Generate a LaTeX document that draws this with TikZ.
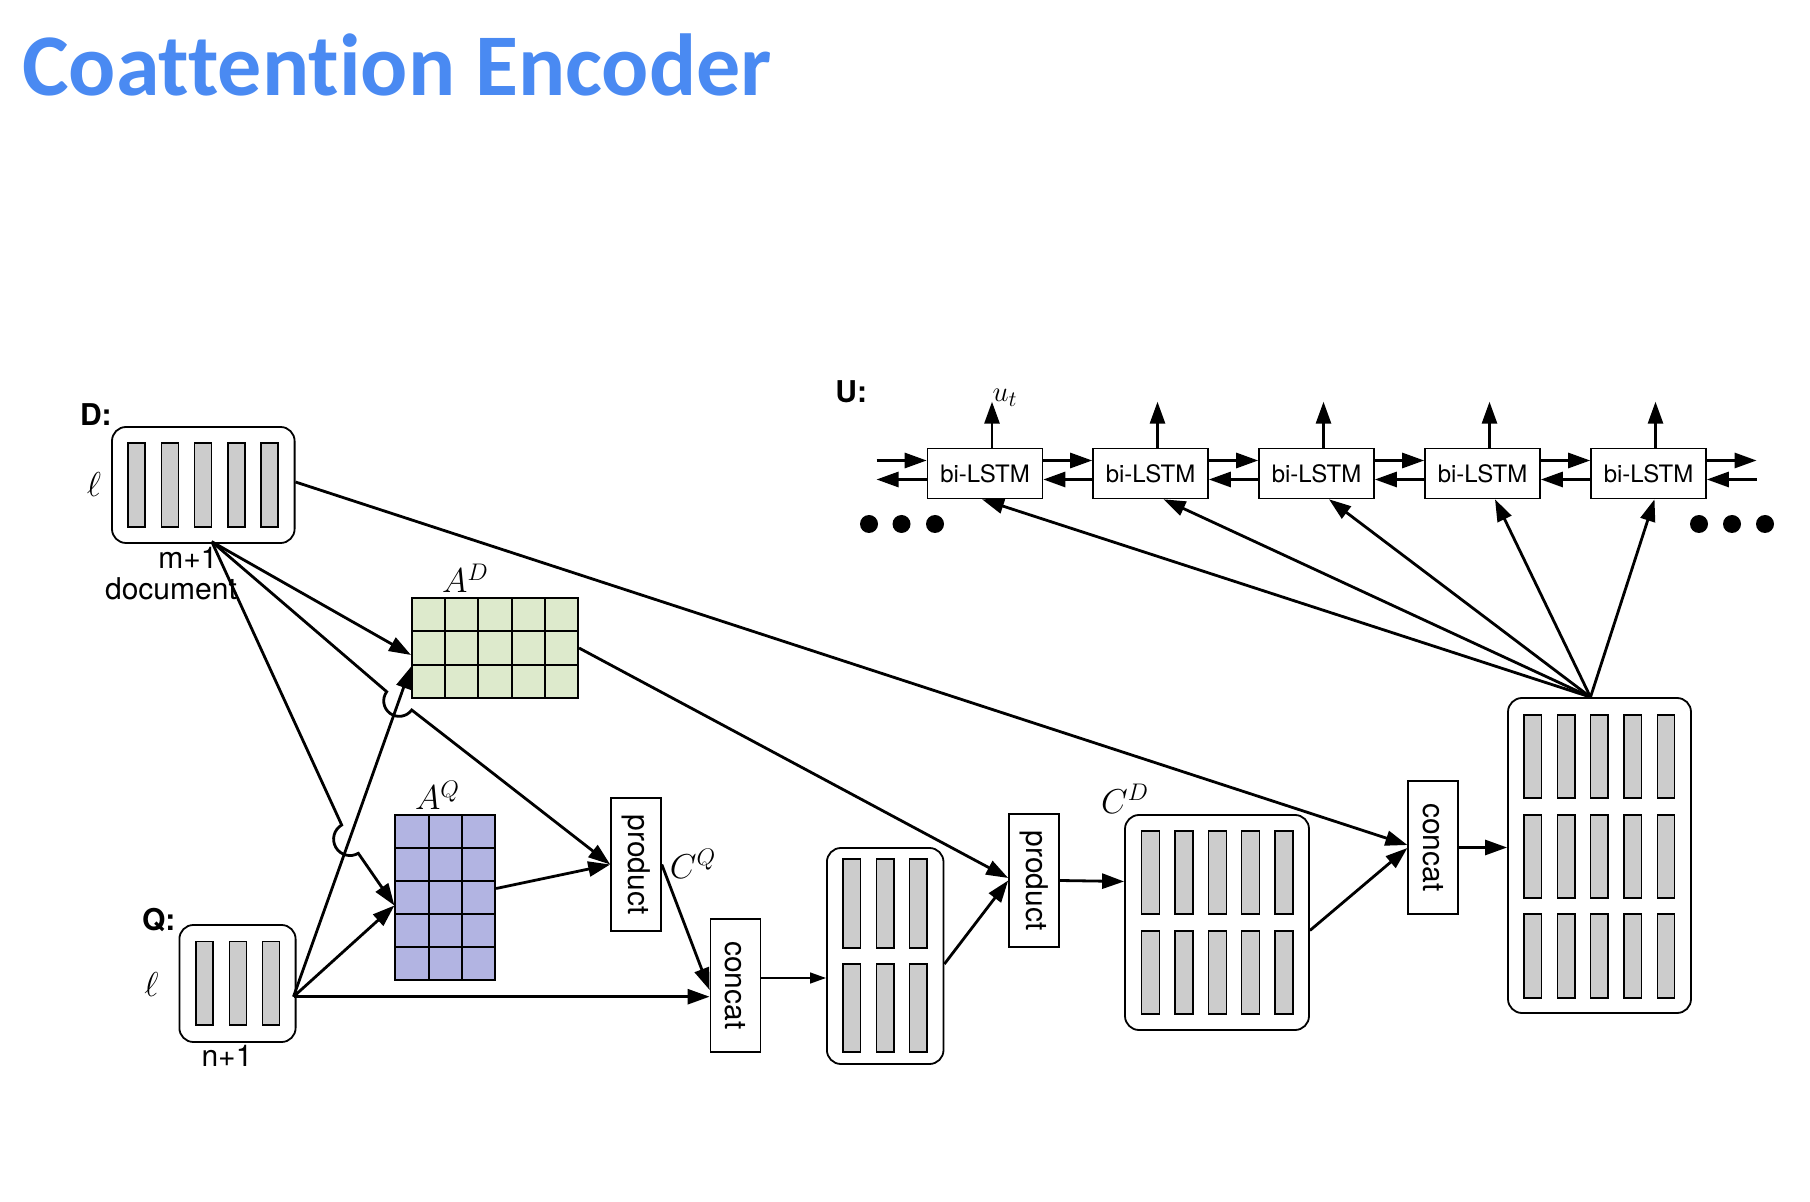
\documentclass[tikz,border=0pt]{standalone}
\usepackage{fontspec}
\setmainfont{TeX Gyre Heros}
\newfontfamily\titlefont[Ligatures=NoCommon]{Carlito}
\usetikzlibrary{arrows.meta,calc,positioning}
\definecolor{titleblue}{RGB}{74,138,242}
\definecolor{barfill}{RGB}{204,204,204}
\definecolor{adfill}{RGB}{221,234,204}
\definecolor{aqfill}{RGB}{178,180,226}
\tikzset{
  vecbox/.style={draw,line width=0.9pt,rounded corners=7pt,inner sep=0},
  bar/.style={draw,line width=0.7pt,fill=barfill},
  mat/.style={draw,line width=1pt,inner sep=0},
  opbox/.style={draw,line width=0.8pt,inner sep=0,minimum width=25pt,minimum height=66.5pt,font=\fontsize{15}{18}\selectfont},
  lstm/.style={draw,line width=0.8pt,inner sep=0,minimum width=57.5pt,minimum height=25pt,font=\fontsize{12}{14}\selectfont},
  conn/.style={line width=1.4pt,-{Triangle[length=11pt,width=7.5pt]}},
  thinconn/.style={line width=0.7pt,-{Triangle[length=8pt,width=5.5pt]}},
  lab/.style={font=\fontsize{15}{18}\selectfont,inner sep=0,anchor=base},
  mlab/.style={font=\fontsize{17.28}{20}\selectfont,inner sep=0,anchor=base},
  hdr/.style={font=\bfseries\fontsize{15}{18}\selectfont,inner sep=0,anchor=base west}
}
\begin{document}
\begin{tikzpicture}[x=0.5pt,y=-0.5pt]
% \draw[step=100,color=gray!40] (0,0) grid (1810,1202);
\useasboundingbox[fill=white] (0,0) rectangle (1810,1202);
\node[anchor=base west,inner sep=0,text=titleblue,font=\titlefont\bfseries\fontsize{44}{50}\selectfont] (title) at (22,96) {Coattention Encoder};

% encodings
\node[vecbox,minimum width=91.3pt,minimum height=58pt] (D) at (203.3,485) {};
\node[vecbox,minimum width=58.1pt,minimum height=58.5pt] (Q) at (237.5,983.5) {};
\node[vecbox,minimum width=58.3pt,minimum height=108pt] (M) at (885.2,956) {};
\node[vecbox,minimum width=92pt,minimum height=107.5pt] (CD) at (1217,922.5) {};
\node[vecbox,minimum width=91.5pt,minimum height=157.5pt] (Ubox) at (1599.5,855.5) {};
\foreach \x/\y/\w/\h/\n in {127.9/443/17/84/4, 195.9/941.7/17/83.3/2,
    843/859/17.5/89/2, 843/964/17.5/88/2,
    1141.7/831/18/83/4, 1141.7/931/18/83/4,
    1524/715/17.5/83/4, 1524/815/17.5/83/4, 1524/914/17.5/84/4}{
  \foreach \i in {0,...,\n}
    \draw[bar] (\x+33.3*\i,\y) rectangle ++(\w,\h);
}

% attention matrices
\node[mat,fill=adfill,minimum width=83pt,minimum height=50pt] (AD) at (495,648) {};
\foreach \x in {1,...,4} \draw[line width=1pt] (412+33.2*\x,598) -- (412+33.2*\x,698);
\foreach \y in {1,2} \draw[line width=1pt] (412,598+33.3*\y) -- (578,598+33.3*\y);
\node[mat,fill=aqfill,minimum width=49.85pt,minimum height=82.5pt] (AQ) at (445.25,897.5) {};
\foreach \x in {1,2} \draw[line width=1pt] (395.4+33.2*\x,815) -- (395.4+33.2*\x,980);
\foreach \y in {1,...,4} \draw[line width=1pt] (395.4,815+33*\y) -- (495.1,815+33*\y);

% operations
\node[opbox] (prodQ) at (636,864.5) {\rotatebox{-90}{product}};
\node[opbox] (cQ) at (735.4,985.5) {\rotatebox{-90}{concat}};
\node[opbox] (prodD) at (1034,880.5) {\rotatebox{-90}{product}};
\node[opbox] (cC) at (1433.2,847.5) {\rotatebox{-90}{concat}};

% bi-LSTM chain
\foreach \i/\x in {1/985,2/1150.5,3/1316.5,4/1482.5,5/1648.5}{
  \node[lstm] (L\i) at (\x,473.5) {bi-LSTM};
}

% labels
\node[hdr] (Dlab) at (79.6,426) {D:};
\node[hdr] (Qlab) at (141.7,930) {Q:};
\node[hdr] (Ulab) at (835,403) {U:};
\node[mlab] (Dl) at (94,496.7) {$\ell$};
\node[mlab] (Ql) at (151.5,996.7) {$\ell$};
\node[lab] (m) at (188,569) {m+1};
\node[lab] (doc) at (171,600) {document};
\node[lab] (n) at (227,1066.7) {n+1};
\node[mlab] (ADlab) at (465.5,593) {$A^D$};
\node[mlab] (AQlab) at (437.5,810) {$A^Q$};
\node[mlab] (CQlab) at (693,878) {$C^Q$};
\node[mlab] (CDlab) at (1125,813) {$C^D$};
\node[lab] (ut) at (1005,401.7) {$u_t$};

% connectors
\coordinate (dfan) at (211.8,541.7);
\coordinate (qfan) at (293.5,996.7);
\draw[conn] (dfan) -- ($(AD.west)+(0,7)$);
\draw[conn] (dfan) -- (386.7,691.7) arc[start angle=216.2,end angle=36.2,radius=15.5] -- (prodQ.west);
\draw[conn] (dfan) -- (341.7,825) arc[start angle=239.6,end angle=59.6,radius=16.4] -- ($(AQ.west)+(0,8)$);
\draw[conn] (qfan) -- ($(AD.west)+(0,18.7)$);
\draw[conn] (qfan) -- ($(AQ.west)+(0,8)$);
\draw[conn] (qfan) -- (qfan -| cQ.west);
\draw[conn] ($(AQ.east)+(0,-9)$) -- (prodQ.west);
\draw[conn] (prodQ.east) -- ($(cQ.west)+(0,4.5)$);
\coordinate (cqo) at ($(cQ.east)+(0,-7.5)$);
\draw[thinconn] (cqo) -- (cqo -| M.west);
\draw[conn] ($(M.east)+(0,8)$) -- (prodD.west);
\draw[conn] (AD.east) -- ($(prodD.west)+(0,-2.5)$);
\draw[conn] (prodD.east) -- ($(CD.west)+(0,-41)$);
\draw[conn] ($(CD.east)+(0,8)$) -- ($(cC.west)+(0,0.5)$);
\draw[conn] ($(D.east)+(0,-3)$) -- ($(cC.west)+(0,-2.5)$);
\draw[conn] (cC.east) -- (cC.east -| Ubox.west);
\coordinate (ufan) at ($(Ubox.north)+(-9,0)$);
\foreach \i/\dx in {1/-3,2/13,3/12.5,4/12.5,5/6}{
  \draw[conn] (ufan) -- ($(L\i.south)+(\dx,0)$);
  \coordinate (u\i) at ($(L\i.north)+(7,-46)$);
  \draw[conn] (u\i |- L\i.north) -- (u\i);
}
\foreach \a/\b in {1/2,2/3,3/4,4/5}{
  \draw[conn] ($(L\a.east)+(0,-13)$) -- ($(L\b.west)+(0,-13)$);
  \draw[conn] ($(L\b.west)+(0,6)$) -- ($(L\a.east)+(0,6)$);
}
\coordinate (lin) at (876.5,473.5);
\coordinate (lout) at (1756.6,473.5);
\draw[conn] ($(lin)+(0,-13)$) -- ($(L1.west)+(0,-13)$);
\draw[conn] ($(L1.west)+(0,6)$) -- ($(lin)+(0,6)$);
\draw[conn] ($(L5.east)+(0,-13)$) -- ($(lout)+(0,-13)$);
\draw[conn] ($(lout)+(0,6)$) -- ($(L5.east)+(0,6)$);
\foreach \x in {869,901.5,935,1699,1732,1765} \fill (\x,524) circle[radius=9];
\end{tikzpicture}
\end{document}
